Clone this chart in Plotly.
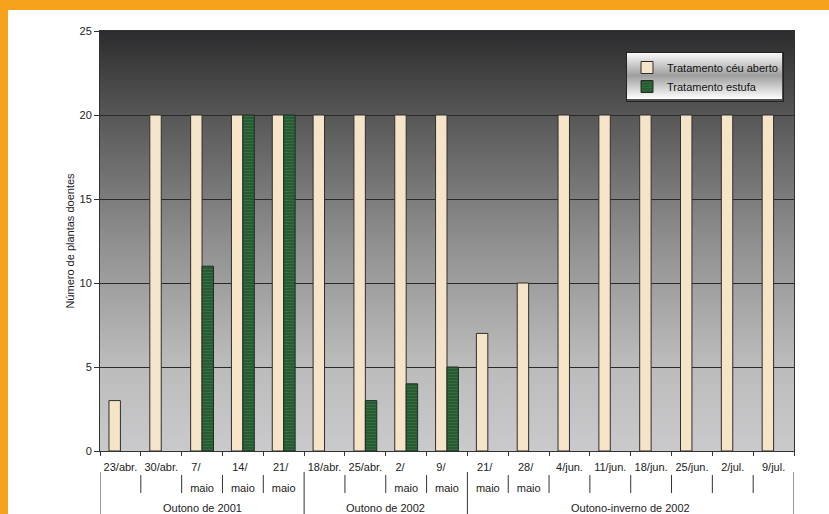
import base64
import plotly.graph_objects as go

# --- data ---------------------------------------------------------------
periodos = ["Outono de 2001"] * 5 + ["Outono de 2002"] * 4 + ["Outono-inverno de 2002"] * 8
datas = ["23/abr.", "30/abr.", "7/", "14/", "21/",
         "18/abr.", "25/abr.", "2/", "9/",
         "21/", "28/", "4/jun.", "11/jun.", "18/jun.", "25/jun.", "2/jul.", "9/jul."]
mes_linha2 = ["", "", "maio", "maio", "maio",
              "", "", "maio", "maio",
              "maio", "maio", "", "", "", "", "", ""]
ceu_aberto = [3, 20, 20, 20, 20, 20, 20, 20, 20, 7, 10, 20, 20, 20, 20, 20, 20]
estufa = [None, None, 11, 20, 20, None, 3, 4, 5, None, None, None, None, None, None, None, None]

# --- geometry (pixels) --------------------------------------------------
W, H = 829, 514
ML, MR, MT, MB = 100, 35, 31, 63
PW, PH = W - ML - MR, H - MT - MB


def px_x(px):
    return (px - ML) / PW


def px_y(py):
    return (H - MB - py) / PH


def svg_uri(stops, w=10, h=100):
    s = "".join(f'<stop offset="{o}" stop-color="{c}"/>' for o, c in stops)
    svg = (f'<svg xmlns="http://www.w3.org/2000/svg" width="{w}" height="{h}" preserveAspectRatio="none">'
           f'<defs><linearGradient id="g" x1="0" y1="0" x2="0" y2="1">{s}</linearGradient></defs>'
           f'<rect width="{w}" height="{h}" fill="url(#g)"/></svg>')
    return "data:image/svg+xml;base64," + base64.b64encode(svg.encode()).decode()


plot_bg = svg_uri([(0, "#2c2c2e"), (0.2, "#575758"), (0.5, "#8f8f90"),
                   (0.78, "#bababb"), (1, "#cacacc")])
legend_bg = svg_uri([(0, "#ffffff"), (0.5, "#9e9e9e"), (1, "#ffffff")])

FAMILY = "Liberation Sans, Arial, sans-serif"
font = dict(family=FAMILY, size=11, color="#222222")

idx = list(range(len(datas)))


def tick_label(top, bottom):
    # left-align the two lines by padding the shorter one with no-break spaces
    if not bottom:
        return f"<span style='font-size:11px'>{top}</span>"
    pad = "\u00a0" * max(0, 2 * (len(bottom) - len(top)))
    return f"<span style='font-size:11px'>{top}{pad}<br>{bottom}</span>"


ticktext = [tick_label(t, b) for t, b in zip(datas, mes_linha2)]

fig = go.Figure()
fig.add_trace(go.Bar(
    x=idx, y=ceu_aberto, name="Tratamento céu aberto",
    marker=dict(color="#f6e4c9", line=dict(color="#2e2e2e", width=1)),
))
fig.add_trace(go.Bar(
    x=idx, y=estufa, name="Tratamento estufa",
    marker=dict(color="#2c6336", line=dict(color="#1e2e20", width=1),
                pattern=dict(shape="-", fgcolor="#44855a", bgcolor="#25572e",
                             size=3, solidity=0.45)),
))

orange = "#f7a21c"
line_col = "#333333"
shapes = [
    # orange frame: top and left strips
    dict(type="rect", xref="paper", yref="paper", layer="above",
         x0=px_x(0), x1=px_x(W), y0=px_y(10), y1=px_y(0),
         fillcolor=orange, line=dict(width=0)),
    dict(type="rect", xref="paper", yref="paper", layer="above",
         x0=px_x(0), x1=px_x(8), y0=px_y(H), y1=px_y(0),
         fillcolor=orange, line=dict(width=0)),
]

# separators between categories in the label area; longer ones between periods
annotations = []
for i in range(len(datas) + 1):
    new_group = i == 0 or i == len(datas) or periodos[i] != periodos[i - 1]
    y_top, y_bot = (472, 514) if new_group else (475, 493)
    shapes.append(dict(type="line", xref="x", yref="paper", x0=i - 0.5, x1=i - 0.5,
                       y0=px_y(y_top), y1=px_y(y_bot),
                       line=dict(color=line_col, width=1)))

# period labels centred under their categories
for p in dict.fromkeys(periodos):
    members = [i for i, g in enumerate(periodos) if g == p]
    annotations.append(dict(text=p, xref="x", yref="paper",
                            x=(members[0] + members[-1]) / 2, y=px_y(508),
                            showarrow=False, xanchor="center", yanchor="middle",
                            font=font))

LEG_L, LEG_T, LEG_R, LEG_B = 626, 52, 782, 99
images = [
    dict(source=plot_bg, xref="paper", yref="paper", x=0, y=1, sizex=1, sizey=1,
         xanchor="left", yanchor="top", sizing="stretch", layer="below"),
    dict(source=legend_bg, xref="paper", yref="paper",
         x=px_x(LEG_L), y=px_y(LEG_T),
         sizex=(LEG_R - LEG_L) / PW, sizey=(LEG_B - LEG_T) / PH,
         xanchor="left", yanchor="top", sizing="stretch", layer="above"),
]

fig.update_layout(
    width=W, height=H,
    margin=dict(l=ML, r=MR, t=MT, b=MB),
    paper_bgcolor="white", plot_bgcolor="rgba(0,0,0,0)",
    font=font,
    barmode="group", bargap=0.44, bargroupgap=0,
    showlegend=True,
    legend=dict(x=px_x(LEG_L), y=px_y(LEG_T), xanchor="left", yanchor="top",
                bgcolor="rgba(0,0,0,0)", bordercolor="#222222", borderwidth=1,
                font=dict(size=11, color="#111111"), tracegroupgap=0,
                itemwidth=30),
    shapes=shapes, annotations=annotations, images=images,
)

fig.update_xaxes(
    range=[-0.5, len(datas) - 0.5], tickmode="array", tickvals=idx, ticktext=ticktext,
    ticks="", tickangle=0, tickfont=dict(family=FAMILY, size=16, color="#222222"),
    ticklabelstandoff=0,
    minor=dict(tickmode="array", tickvals=[i - 0.5 for i in range(len(datas) + 1)],
               ticks="outside", ticklen=4, tickcolor=line_col, showgrid=False),
    showline=True, linecolor=line_col, mirror=True,
    showgrid=False, zeroline=False, automargin=False,
)
fig.update_yaxes(
    range=[0, 25], dtick=5, ticks="outside", ticklen=5, tickcolor=line_col,
    showline=True, linecolor=line_col, mirror=True,
    showgrid=True, gridcolor="#2a2a2a",
    gridwidth=1, zeroline=False, tickfont=dict(size=11, color="#222222"),
    title=dict(text="Número de plantas doentes", font=font, standoff=2),
    automargin=False,
)

fig.write_html("out.html")
